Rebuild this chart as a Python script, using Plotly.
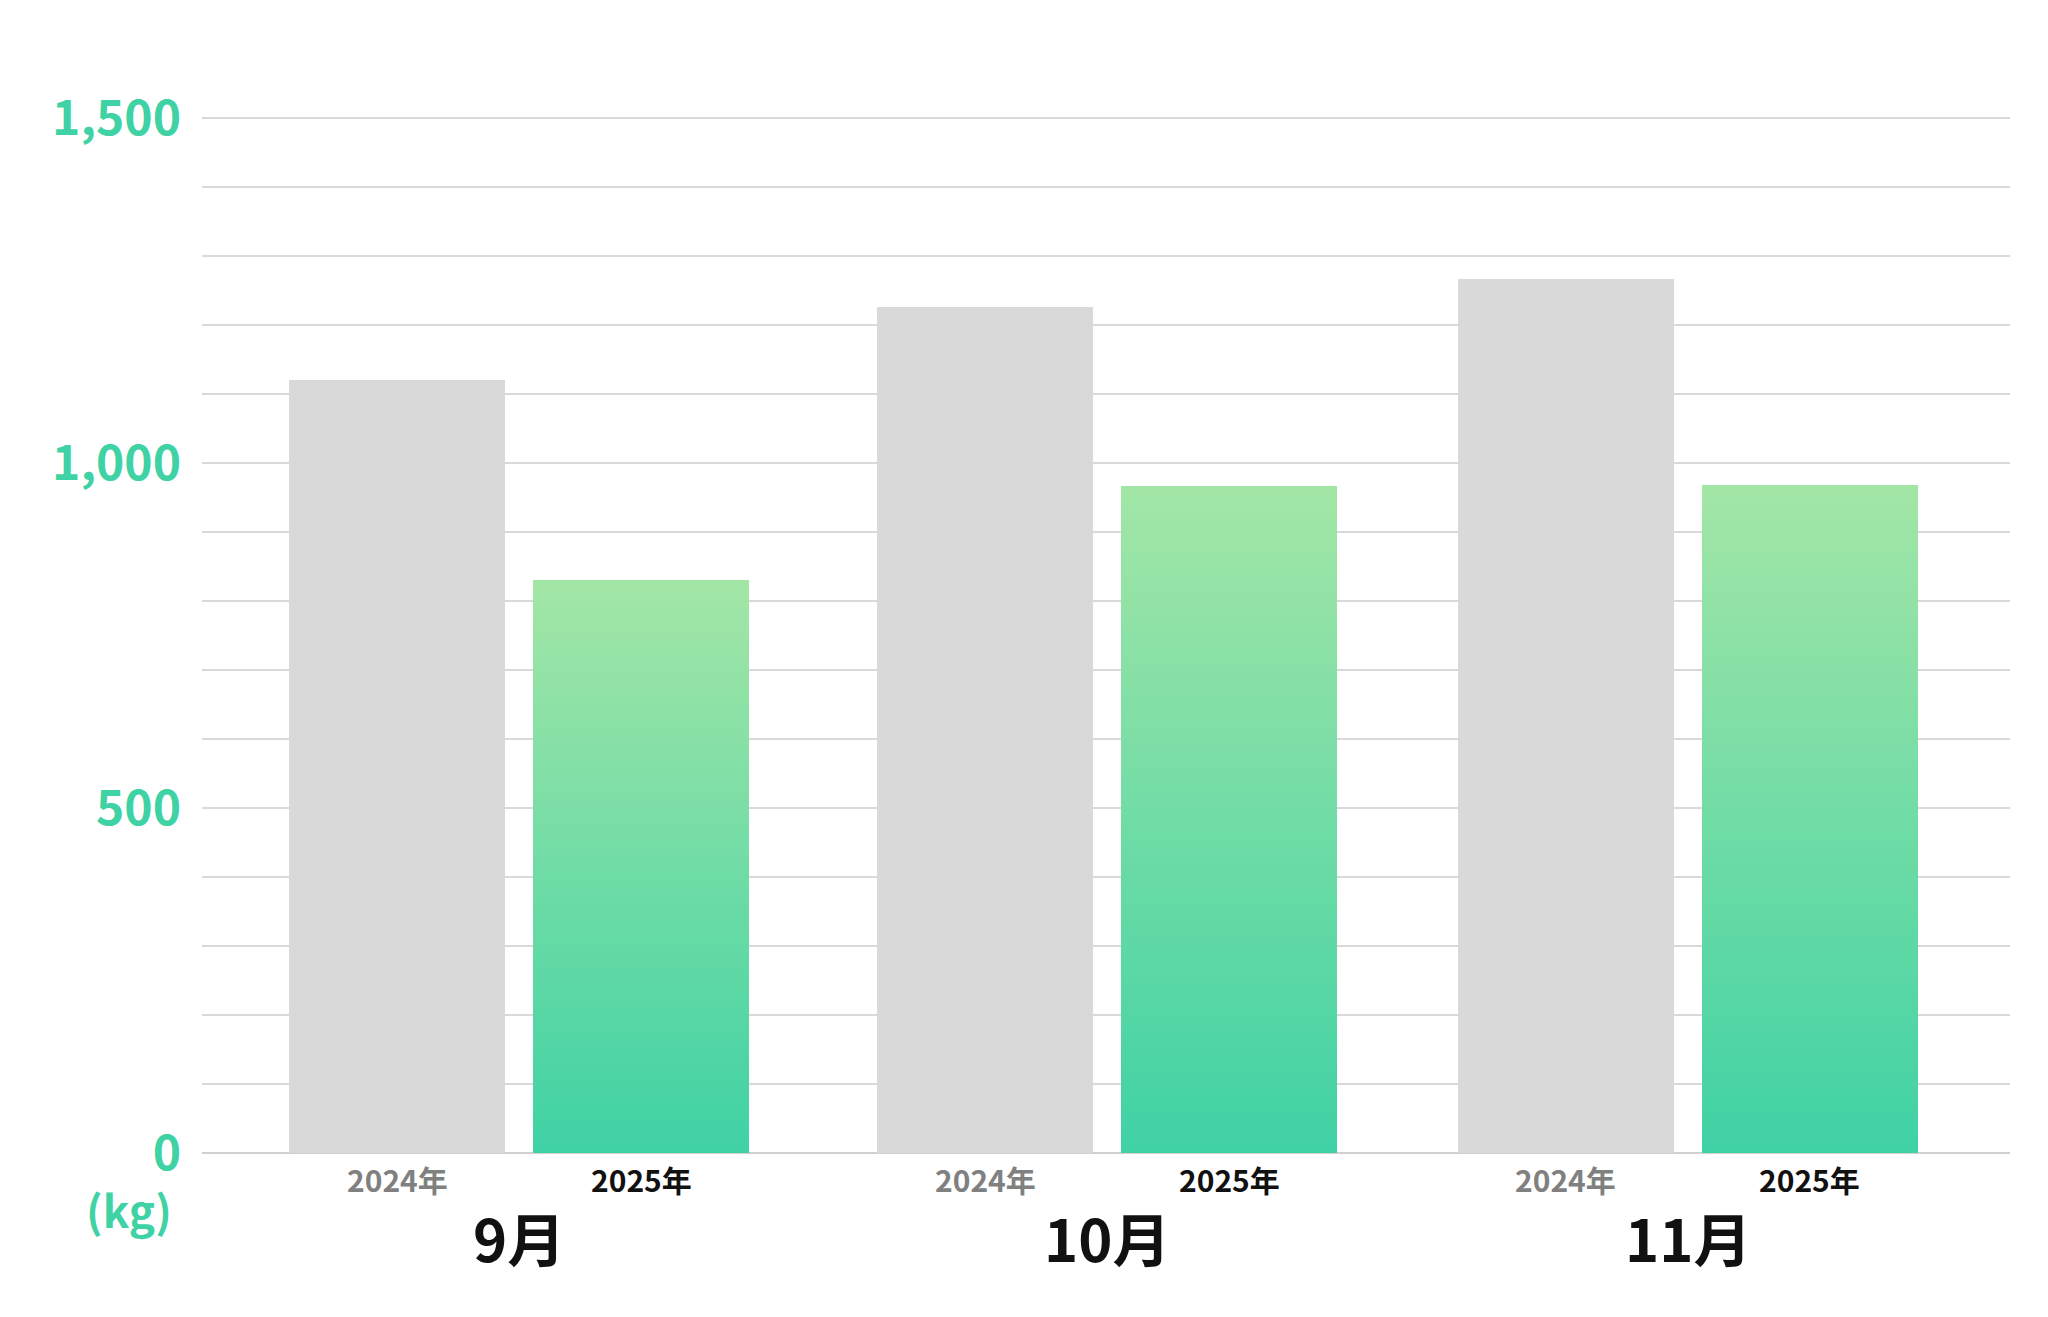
import plotly.graph_objects as go

# data
MONTHS = ["9月", "10月", "11月"]
YEARS = ["2024年", "2025年"]
KG_2024 = [1120, 1226, 1267]
KG_2025 = [829, 966, 968]

# layout constants
GROUP_X = [0.0, 2.41, 4.79]
BAR_W = 0.887
N_STEPS = 60
C_BOT = (63, 210, 165)
C_TOP = (163, 230, 166)
GREEN = "#3fd2a5"
FONT = "Noto Sans CJK JP"


def _mix(t):
    r, g, b = (round(a + (b_ - a) * t) for a, b_ in zip(C_BOT, C_TOP))
    return f"rgb({r},{g},{b})"


fig = go.Figure()

# 2024 bars (grey)
fig.add_bar(x=GROUP_X, y=KG_2024, width=BAR_W,
            marker=dict(color="#d9d9d9", line_width=0), name=YEARS[0])

# 2025 bars drawn as stacked slices to mimic a vertical gradient
for i in range(N_STEPS):
    t0, t1 = i / N_STEPS, (i + 1) / N_STEPS
    fig.add_bar(
        x=[g + 1 for g in GROUP_X],
        y=[v * (t1 - t0) + 0.5 for v in KG_2025],
        base=[v * t0 for v in KG_2025],
        width=BAR_W,
        marker=dict(color=_mix((t0 + t1) / 2), line_width=0),
        showlegend=False, hoverinfo="skip",
    )

# year and month labels
for g, m in zip(GROUP_X, MONTHS):
    fig.add_annotation(x=g, y=0, text=f"<b>{YEARS[0]}</b>", showarrow=False,
                       yanchor="top", yshift=-2,
                       font=dict(family=FONT, size=30, color="#808080"))
    fig.add_annotation(x=g + 1, y=0, text=f"<b>{YEARS[1]}</b>", showarrow=False,
                       yanchor="top", yshift=-2,
                       font=dict(family=FONT, size=30, color="#111111"))
    fig.add_annotation(x=g + 0.5, y=0, text=f"<b>{m}</b>", showarrow=False,
                       yanchor="top", yshift=-40,
                       font=dict(family=FONT, size=58, color="#111111"))

fig.add_annotation(xref="paper", x=-0.065, y=0, text="<b>(kg)</b>", showarrow=False,
                   yanchor="top", yshift=-22,
                   font=dict(family=FONT, size=44, color=GREEN))

fig.update_layout(
    width=2048, height=1317,
    margin=dict(l=194, r=46, t=40, b=172),
    barmode="overlay", bargap=0,
    plot_bgcolor="white", paper_bgcolor="white",
    showlegend=False,
    xaxis=dict(range=[-0.8, 6.61], showticklabels=False, showgrid=False,
               zeroline=False, showline=False),
    yaxis=dict(range=[0, 1601], tickvals=[0, 500, 1000, 1500],
               ticktext=["<b>0</b>", "<b>500</b>", "<b>1,000</b>", "<b>1,500</b>"],
               tickfont=dict(family=FONT, size=48, color=GREEN),
               showgrid=True, gridcolor="#d9d9d9", gridwidth=1.5,
               minor=dict(dtick=100, showgrid=True, gridcolor="#d9d9d9", gridwidth=1.5),
               zeroline=True, zerolinecolor="#d0d0d0", zerolinewidth=1.5,
               ticklabelstandoff=20, fixedrange=True),
)

fig.write_html("out.html")
